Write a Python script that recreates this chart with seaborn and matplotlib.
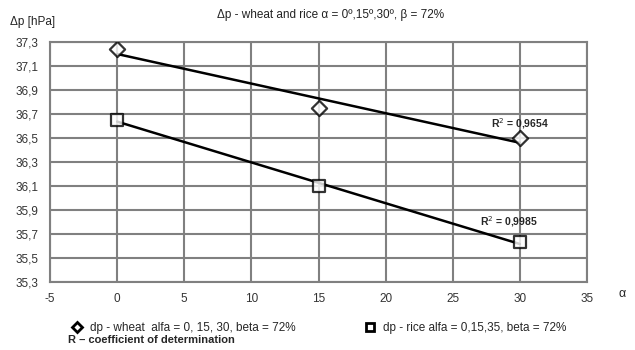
import numpy as np
import pandas as pd
import seaborn as sns
import matplotlib
matplotlib.use("Agg")
import matplotlib.pyplot as plt
from matplotlib.lines import Line2D
from matplotlib.ticker import FixedLocator, FuncFormatter

# data
alpha = [0, 15, 30]
dp_wheat = [37.24, 36.75, 36.50]
dp_rice = [36.65, 36.10, 35.63]
r2_labels = ["R$^2$ = 0,9654", "R$^2$ = 0,9985"]
legend_labels = ["dp - wheat  alfa = 0, 15, 30, beta = 72%",
                 "dp - rice alfa = 0,15,35, beta = 72%"]
x_ticks = [-5, 0, 5, 10, 15, 20, 25, 30, 35]
y_ticks = [35.3, 35.5, 35.7, 35.9, 36.1, 36.3, 36.5, 36.7, 36.9, 37.1, 37.3]

df = pd.DataFrame({"alpha": alpha, "wheat": dp_wheat, "rice": dp_rice})

sns.set_style("white")
plt.rcParams["font.family"] = ["Liberation Sans", "DejaVu Sans"]

fig = plt.figure(figsize=(6.35, 3.5), dpi=100)
ax = fig.add_axes([50 / 635, 1 - 282 / 350, 537 / 635, 240 / 350])

grid_col = "#808080"
common_scatter = dict(s=75, facecolors="white", edgecolors="black",
                      linewidths=1.6, zorder=3)
sns.regplot(data=df, x="alpha", y="wheat", ci=None, truncate=True, marker="D",
            color="black", scatter_kws=dict(common_scatter, s=60),
            line_kws=dict(lw=1.8, zorder=2), ax=ax)
sns.regplot(data=df, x="alpha", y="rice", ci=None, truncate=True, marker="s",
            color="black", scatter_kws=common_scatter,
            line_kws=dict(lw=1.8, zorder=2), ax=ax)

ax.set_xlim(-5, 35)
ax.set_ylim(35.3, 37.3)
ax.xaxis.set_major_locator(FixedLocator(x_ticks))
ax.yaxis.set_major_locator(FixedLocator(y_ticks))
ax.yaxis.set_major_formatter(FuncFormatter(lambda v, p: f"{v:.1f}".replace(".", ",")))
ax.xaxis.set_major_formatter(FuncFormatter(lambda v, p: f"{v:g}"))
ax.grid(True, color=grid_col, lw=1.5)
ax.set_axisbelow(True)
for sp in ax.spines.values():
    sp.set_color(grid_col)
    sp.set_linewidth(1.5)
ax.tick_params(length=0, labelsize=8.5, colors="#333333", pad=8)
ax.set_xlabel("")
ax.set_ylabel("")

# R^2 annotations
ax.text(30.0, 36.62, r2_labels[0], fontsize=7.5, fontweight="bold",
        ha="center", va="center")
ax.text(29.2, 35.8, r2_labels[1], fontsize=7.5, fontweight="bold",
        ha="center", va="center")

fig.text(0.52, 0.957, "Δp - wheat and rice α = 0º,15º,30º, β = 72%",
         fontsize=8.5, ha="center", va="center", color="#222222")
fig.text(10 / 635, 1 - 22 / 350, "Δp [hPa]", fontsize=8.5, ha="left",
         va="center", color="#222222")
fig.text(622 / 635, 1 - 294 / 350, "α", fontsize=9, ha="center", va="center")

handles = [Line2D([], [], marker="D", ls="", mfc="white", mec="black", mew=2, ms=5),
           Line2D([], [], marker="s", ls="", mfc="white", mec="black", mew=2, ms=6)]
fig.legend(handles, legend_labels, ncol=2, loc="center left",
           bbox_to_anchor=(64 / 635, 1 - 328 / 350), frameon=False,
           fontsize=8.5, columnspacing=5.7, handlelength=1.2,
           handletextpad=0.5, borderpad=0)
fig.text(68 / 635, 1 - 340 / 350, "R – coefficient of determination",
         fontsize=8, fontweight="bold", ha="left", va="center")

fig.savefig("out.png", dpi=100)
